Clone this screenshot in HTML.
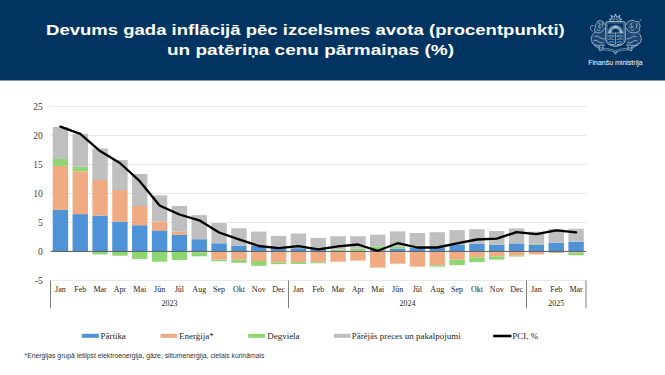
<!DOCTYPE html>
<html><head><meta charset="utf-8"><style>
html,body{margin:0;padding:0;width:665px;height:375px;overflow:hidden;background:#fff}
#hdr{position:absolute;left:0;top:0;width:665px;height:81px}
.t{position:absolute;color:#fff;font-family:"Liberation Sans",sans-serif;font-weight:bold;font-size:15.5px;white-space:nowrap;transform-origin:0 0}
#fm{position:absolute;left:588.2px;top:58.8px;color:#fff;font-family:"Liberation Sans",sans-serif;font-size:7px;white-space:nowrap}
svg{position:absolute;left:0;top:0}
.ax{font-family:"Liberation Serif",serif;font-size:9.5px;fill:#404040}
.mx{font-family:"Liberation Serif",serif;font-size:8px;fill:#1e1e1e}
.lg{font-family:"Liberation Serif",serif;font-size:8.95px;fill:#262626}
.fn{font-family:"Liberation Sans",sans-serif;font-size:6.8px;fill:#333}
</style></head><body>
<svg id="hdr" width="665" height="81"><rect x="0" y="0" width="665" height="80.5" fill="#023462"/></svg>
<div class="t" id="t1" style="left:46px;top:21px;transform:scaleX(1.195)">Devums gada inflācijā pēc izcelsmes avota (procentpunkti)</div>
<div class="t" id="t2" style="left:167px;top:41px;transform:scaleX(1.225)">un patēriņa cenu pārmaiņas (%)</div>
<div id="fm">Finanšu ministrija</div>
<svg width="665" height="375" viewBox="0 0 665 375">
<g><path d="M611.54,21.00 L609.22,19.15 L612.30,18.88 L610.97,15.34 L614.28,17.58 L615.50,14.00 L616.72,17.58 L620.03,15.34 L618.70,18.88 L621.78,19.15 L619.46,21.00" stroke="#d3dce8" stroke-width="0.8" fill="none" stroke-linejoin="miter"/><path d="M612.9,21.2 A2.6,2.2 0 0 1 618.1,21.2" stroke="#d3dce8" stroke-width="0.6" fill="none"/><path d="M607.6,21.6 L623.4,21.6 Q625.2,21.6 625.2,23.4 L625.2,39.8 Q625.2,45 615.5,46.4 Q605.8,45 605.8,39.8 L605.8,23.4 Q605.8,21.6 607.6,21.6 Z" stroke="#d3dce8" stroke-width="0.85" fill="none"/><path d="M607.2,23 L623.8,23 L623.8,39.5 Q623.8,44 615.5,45.1 Q607.2,44 607.2,39.5 Z" stroke="#d3dce8" stroke-width="0.45" fill="none" opacity="0.75"/><path d="M611.10,32.60L608.10,32.60M611.17,31.84L608.21,31.32M611.37,31.10L608.55,30.07M611.69,30.40L609.09,28.90M612.13,29.77L609.83,27.84M612.67,29.23L610.74,26.93M613.30,28.79L611.80,26.19M614.00,28.47L612.97,25.65M614.74,28.27L614.22,25.31M615.50,28.20L615.50,25.20M616.26,28.27L616.78,25.31M617.00,28.47L618.03,25.65M617.70,28.79L619.20,26.19M618.33,29.23L620.26,26.93M618.87,29.77L621.17,27.84M619.31,30.40L621.91,28.90M619.63,31.10L622.45,30.07M619.83,31.84L622.79,31.32M619.90,32.60L622.90,32.60" stroke="#d3dce8" stroke-width="0.8" fill="none"/><path d="M611.1,32.6 A4.4,4.4 0 0 1 619.9,32.6" stroke="#d3dce8" stroke-width="0.5" fill="none"/><path d="M607.5,33 L623.5,33 M615.5,33 L615.5,45 M608.5,36 Q610,34.2 612,35.5 Q613.5,34.5 614.5,36.2 Q613,37.5 611,37 Q609.5,38 608.5,36 Z M616.5,36.2 Q617.5,34.5 619,35.5 Q621,34.2 622.5,36 Q621.5,38 620,37 Q618,37.5 616.5,36.2 Z M608,39.2 Q611,38.3 614.5,39.8 M616.5,39.8 Q620,38.3 623,39.2 M609,42 Q611.5,41 614.5,42.5 M616.5,42.5 Q619.5,41 622,42 M610,44 L614,44.8 M617,44.8 L621,44" stroke="#d3dce8" stroke-width="0.6" fill="none"/><path d="M604.6,24.6 Q603.8,20.6 600.2,20.4 Q596.4,20.6 596.6,23.8 Q594.2,25 595.4,27.8 Q593.4,29.8 595.2,32 Q597.8,33.6 600.8,32.4 Q603.6,31 604.6,28 M598.4,22.8 Q600.6,23 600.2,25 Q598.4,25.6 598.6,27.4 Q600.8,28.2 601.8,26.6 M596.8,29.6 Q598.6,31 600.4,30 M602.2,22 Q603.4,24 602.4,26.2 M595.2,32 Q591.4,34.4 591.2,38.6 Q591.2,42.6 594.4,44.8 Q597.4,46 601,45.4 L605,45 M594.6,36.4 Q597.6,35.4 599.8,37.4 Q601.6,39.4 604.6,38.8 M593.8,40.6 Q596.6,39.6 598.6,41.8 Q600.4,43.6 603.6,42.6 M599,45.4 L599.2,50.6 L601.8,50.6 M602.8,45.2 L603,50.2 M592.6,31.6 Q589.6,29.6 590.6,26.6 Q591.8,24.6 593.6,26" stroke="#d3dce8" stroke-width="0.62" fill="none"/><path d="M604.6,24.6 Q603.8,20.6 600.2,20.4 Q596.4,20.6 596.6,23.8 Q594.2,25 595.4,27.8 Q593.4,29.8 595.2,32 Q591.4,34.4 591.2,38.6 Q591.2,42.6 594.4,44.8 Q597.4,46 601,45.4 L605,45 Z" fill="#d3dce8" fill-opacity="0.13"/><path d="M626.4,24.6 Q627.2,20.6 630.8,20.4 Q634,19.6 635.6,21.8 Q638.6,20.6 639,23.6 Q641.2,25.6 639.6,28 Q640.8,31 637.6,32.2 Q634.4,33.6 630.2,32.4 Q627.4,31 626.4,28 M632.6,22.8 Q630.4,23 630.8,25 Q632.6,25.6 632.4,27.4 Q630.2,28.2 629.2,26.6 M634.2,29.6 Q632.4,31 630.6,30 M636.6,23.4 Q637.6,26 636.2,28.4 M637.6,32.2 Q641.2,34.4 641.4,38.6 Q641.4,42.6 638.2,44.8 Q635.2,46 631.6,45.4 L626,45 M636.4,36.4 Q633.4,35.4 631.2,37.4 Q629.4,39.4 626.4,38.8 M637.2,40.6 Q634.4,39.6 632.4,41.8 Q630.6,43.6 627.4,42.6 M632,45.4 L631.8,50.6 L629.2,50.6 M628.2,45.2 L628,50.2 M638.8,21.8 L641.6,19.6" stroke="#d3dce8" stroke-width="0.62" fill="none"/><path d="M626.4,24.6 Q627.2,20.6 630.8,20.4 Q634,19.6 635.6,21.8 Q638.6,20.6 639,23.6 Q641.2,25.6 639.6,28 Q640.8,31 637.6,32.2 Q641.2,34.4 641.4,38.6 Q641.4,42.6 638.2,44.8 Q635.2,46 631.6,45.4 L626,45 Z" fill="#d3dce8" fill-opacity="0.13"/><path d="M591.8,42.2 Q595,47.6 604,48.2 Q611,48.6 615.5,50.8 Q620,48.6 627,48.2 Q636,47.6 639.2,42.2 M594,45.2 Q599.5,50.2 607.5,50.3 Q612.5,50.6 615.5,52.6 Q618.5,50.6 623.5,50.3 Q631.5,50.2 637,45.2" stroke="#d3dce8" stroke-width="0.55" fill="none" opacity="0.85"/><path d="M613.6,51 Q615.5,55.5 617.4,51 M614.4,53.8 L616.6,53.8" stroke="#d3dce8" stroke-width="0.6" fill="none"/></g>
<line x1="50.5" x2="586.0" y1="106.40" y2="106.40" stroke="#e6e6e6" stroke-width="1"/>
<line x1="50.5" x2="586.0" y1="135.40" y2="135.40" stroke="#e6e6e6" stroke-width="1"/>
<line x1="50.5" x2="586.0" y1="164.40" y2="164.40" stroke="#e6e6e6" stroke-width="1"/>
<line x1="50.5" x2="586.0" y1="193.40" y2="193.40" stroke="#e6e6e6" stroke-width="1"/>
<line x1="50.5" x2="586.0" y1="222.40" y2="222.40" stroke="#e6e6e6" stroke-width="1"/>
<line x1="50.5" x2="586.0" y1="280.40" y2="280.40" stroke="#e6e6e6" stroke-width="1"/>
<text x="42.8" y="110.30" text-anchor="end" class="ax">25</text>
<text x="42.8" y="139.30" text-anchor="end" class="ax">20</text>
<text x="42.8" y="168.30" text-anchor="end" class="ax">15</text>
<text x="42.8" y="197.30" text-anchor="end" class="ax">10</text>
<text x="42.8" y="226.30" text-anchor="end" class="ax">5</text>
<text x="42.8" y="255.30" text-anchor="end" class="ax">0</text>
<text x="42.8" y="284.30" text-anchor="end" class="ax">-5</text>
<rect x="52.72" y="209.90" width="15.4" height="41.50" fill="#4e93d8"/>
<rect x="52.72" y="165.90" width="15.4" height="44.00" fill="#f1ab83"/>
<rect x="52.72" y="159.00" width="15.4" height="6.90" fill="#8dd672"/>
<rect x="52.72" y="127.00" width="15.4" height="32.00" fill="#bfbfbf"/>
<rect x="72.55" y="214.10" width="15.4" height="37.30" fill="#4e93d8"/>
<rect x="72.55" y="171.30" width="15.4" height="42.80" fill="#f1ab83"/>
<rect x="72.55" y="166.70" width="15.4" height="4.60" fill="#8dd672"/>
<rect x="72.55" y="133.90" width="15.4" height="32.80" fill="#bfbfbf"/>
<rect x="92.38" y="215.70" width="15.4" height="35.70" fill="#4e93d8"/>
<rect x="92.38" y="180.00" width="15.4" height="35.70" fill="#f1ab83"/>
<rect x="92.38" y="148.50" width="15.4" height="31.50" fill="#bfbfbf"/>
<rect x="92.38" y="251.40" width="15.4" height="3.00" fill="#8dd672"/>
<rect x="112.22" y="221.60" width="15.4" height="29.80" fill="#4e93d8"/>
<rect x="112.22" y="190.00" width="15.4" height="31.60" fill="#f1ab83"/>
<rect x="112.22" y="160.10" width="15.4" height="29.90" fill="#bfbfbf"/>
<rect x="112.22" y="251.40" width="15.4" height="4.30" fill="#8dd672"/>
<rect x="132.05" y="225.20" width="15.4" height="26.20" fill="#4e93d8"/>
<rect x="132.05" y="206.00" width="15.4" height="19.20" fill="#f1ab83"/>
<rect x="132.05" y="174.00" width="15.4" height="32.00" fill="#bfbfbf"/>
<rect x="132.05" y="251.40" width="15.4" height="7.50" fill="#8dd672"/>
<rect x="151.88" y="230.40" width="15.4" height="21.00" fill="#4e93d8"/>
<rect x="151.88" y="221.50" width="15.4" height="8.90" fill="#f1ab83"/>
<rect x="151.88" y="195.40" width="15.4" height="26.10" fill="#bfbfbf"/>
<rect x="151.88" y="251.40" width="15.4" height="10.30" fill="#8dd672"/>
<rect x="171.72" y="234.90" width="15.4" height="16.50" fill="#4e93d8"/>
<rect x="171.72" y="231.70" width="15.4" height="3.20" fill="#f1ab83"/>
<rect x="171.72" y="206.00" width="15.4" height="25.70" fill="#bfbfbf"/>
<rect x="171.72" y="251.40" width="15.4" height="8.50" fill="#8dd672"/>
<rect x="191.55" y="239.20" width="15.4" height="12.20" fill="#4e93d8"/>
<rect x="191.55" y="215.20" width="15.4" height="24.00" fill="#bfbfbf"/>
<rect x="191.55" y="251.40" width="15.4" height="0.80" fill="#f1ab83"/>
<rect x="191.55" y="252.20" width="15.4" height="4.10" fill="#8dd672"/>
<rect x="211.38" y="243.30" width="15.4" height="8.10" fill="#4e93d8"/>
<rect x="211.38" y="223.00" width="15.4" height="20.30" fill="#bfbfbf"/>
<rect x="211.38" y="251.40" width="15.4" height="8.30" fill="#f1ab83"/>
<rect x="211.38" y="259.70" width="15.4" height="1.50" fill="#8dd672"/>
<rect x="231.22" y="245.50" width="15.4" height="5.90" fill="#4e93d8"/>
<rect x="231.22" y="228.30" width="15.4" height="17.20" fill="#bfbfbf"/>
<rect x="231.22" y="251.40" width="15.4" height="8.30" fill="#f1ab83"/>
<rect x="231.22" y="259.70" width="15.4" height="3.10" fill="#8dd672"/>
<rect x="251.05" y="245.90" width="15.4" height="5.50" fill="#4e93d8"/>
<rect x="251.05" y="231.60" width="15.4" height="14.30" fill="#bfbfbf"/>
<rect x="251.05" y="251.40" width="15.4" height="9.60" fill="#f1ab83"/>
<rect x="251.05" y="261.00" width="15.4" height="4.80" fill="#8dd672"/>
<rect x="270.88" y="248.10" width="15.4" height="3.30" fill="#4e93d8"/>
<rect x="270.88" y="235.90" width="15.4" height="12.20" fill="#bfbfbf"/>
<rect x="270.88" y="251.40" width="15.4" height="11.00" fill="#f1ab83"/>
<rect x="270.88" y="262.40" width="15.4" height="1.70" fill="#8dd672"/>
<rect x="290.72" y="248.20" width="15.4" height="3.20" fill="#4e93d8"/>
<rect x="290.72" y="233.50" width="15.4" height="14.70" fill="#bfbfbf"/>
<rect x="290.72" y="251.40" width="15.4" height="10.70" fill="#f1ab83"/>
<rect x="290.72" y="262.10" width="15.4" height="1.90" fill="#8dd672"/>
<rect x="310.55" y="248.90" width="15.4" height="2.50" fill="#4e93d8"/>
<rect x="310.55" y="237.90" width="15.4" height="11.00" fill="#bfbfbf"/>
<rect x="310.55" y="251.40" width="15.4" height="10.80" fill="#f1ab83"/>
<rect x="310.55" y="262.20" width="15.4" height="1.10" fill="#8dd672"/>
<rect x="330.38" y="250.80" width="15.4" height="0.60" fill="#4e93d8"/>
<rect x="330.38" y="249.50" width="15.4" height="1.30" fill="#8dd672"/>
<rect x="330.38" y="236.20" width="15.4" height="13.30" fill="#bfbfbf"/>
<rect x="330.38" y="251.40" width="15.4" height="10.30" fill="#f1ab83"/>
<rect x="350.22" y="250.80" width="15.4" height="0.60" fill="#4e93d8"/>
<rect x="350.22" y="248.40" width="15.4" height="2.40" fill="#8dd672"/>
<rect x="350.22" y="236.20" width="15.4" height="12.20" fill="#bfbfbf"/>
<rect x="350.22" y="251.40" width="15.4" height="9.20" fill="#f1ab83"/>
<rect x="370.05" y="250.20" width="15.4" height="1.20" fill="#4e93d8"/>
<rect x="370.05" y="246.30" width="15.4" height="3.90" fill="#8dd672"/>
<rect x="370.05" y="234.70" width="15.4" height="11.60" fill="#bfbfbf"/>
<rect x="370.05" y="251.40" width="15.4" height="16.20" fill="#f1ab83"/>
<rect x="389.88" y="248.60" width="15.4" height="2.80" fill="#4e93d8"/>
<rect x="389.88" y="246.40" width="15.4" height="2.20" fill="#8dd672"/>
<rect x="389.88" y="231.40" width="15.4" height="15.00" fill="#bfbfbf"/>
<rect x="389.88" y="251.40" width="15.4" height="12.30" fill="#f1ab83"/>
<rect x="409.72" y="247.50" width="15.4" height="3.90" fill="#4e93d8"/>
<rect x="409.72" y="245.70" width="15.4" height="1.80" fill="#8dd672"/>
<rect x="409.72" y="233.00" width="15.4" height="12.70" fill="#bfbfbf"/>
<rect x="409.72" y="251.40" width="15.4" height="15.30" fill="#f1ab83"/>
<rect x="429.55" y="247.20" width="15.4" height="4.20" fill="#4e93d8"/>
<rect x="429.55" y="232.20" width="15.4" height="15.00" fill="#bfbfbf"/>
<rect x="429.55" y="251.40" width="15.4" height="13.90" fill="#f1ab83"/>
<rect x="429.55" y="265.30" width="15.4" height="1.40" fill="#8dd672"/>
<rect x="449.38" y="245.00" width="15.4" height="6.40" fill="#4e93d8"/>
<rect x="449.38" y="230.10" width="15.4" height="14.90" fill="#bfbfbf"/>
<rect x="449.38" y="251.40" width="15.4" height="8.30" fill="#f1ab83"/>
<rect x="449.38" y="259.70" width="15.4" height="5.40" fill="#8dd672"/>
<rect x="469.22" y="243.50" width="15.4" height="7.90" fill="#4e93d8"/>
<rect x="469.22" y="229.20" width="15.4" height="14.30" fill="#bfbfbf"/>
<rect x="469.22" y="251.40" width="15.4" height="6.00" fill="#f1ab83"/>
<rect x="469.22" y="257.40" width="15.4" height="4.70" fill="#8dd672"/>
<rect x="489.05" y="244.90" width="15.4" height="6.50" fill="#4e93d8"/>
<rect x="489.05" y="231.00" width="15.4" height="13.90" fill="#bfbfbf"/>
<rect x="489.05" y="251.40" width="15.4" height="5.00" fill="#f1ab83"/>
<rect x="489.05" y="256.40" width="15.4" height="3.20" fill="#8dd672"/>
<rect x="508.88" y="243.40" width="15.4" height="8.00" fill="#4e93d8"/>
<rect x="508.88" y="228.40" width="15.4" height="15.00" fill="#bfbfbf"/>
<rect x="508.88" y="251.40" width="15.4" height="4.10" fill="#f1ab83"/>
<rect x="508.88" y="255.50" width="15.4" height="1.00" fill="#8dd672"/>
<rect x="528.72" y="244.70" width="15.4" height="6.70" fill="#4e93d8"/>
<rect x="528.72" y="243.90" width="15.4" height="0.80" fill="#8dd672"/>
<rect x="528.72" y="231.70" width="15.4" height="12.20" fill="#bfbfbf"/>
<rect x="528.72" y="251.40" width="15.4" height="3.00" fill="#f1ab83"/>
<rect x="548.55" y="242.70" width="15.4" height="8.70" fill="#4e93d8"/>
<rect x="548.55" y="229.00" width="15.4" height="13.70" fill="#bfbfbf"/>
<rect x="548.55" y="251.40" width="15.4" height="1.60" fill="#f1ab83"/>
<rect x="568.38" y="241.70" width="15.4" height="9.70" fill="#4e93d8"/>
<rect x="568.38" y="228.70" width="15.4" height="13.00" fill="#bfbfbf"/>
<rect x="568.38" y="251.40" width="15.4" height="1.20" fill="#f1ab83"/>
<rect x="568.38" y="252.60" width="15.4" height="2.70" fill="#8dd672"/>
<line x1="50.5" x2="586.0" y1="251.4" y2="251.4" stroke="#595959" stroke-width="1"/>
<polyline points="60.42,126.7 80.25,133.9 100.08,151.1 119.92,163 139.75,181.2 159.58,205.5 179.42,214.5 199.25,220.3 219.08,232.5 238.92,239.3 258.75,246 278.58,248.1 298.42,246.1 318.25,249.3 338.08,246.3 357.92,244.5 377.75,250.8 397.58,243.2 417.42,247.5 437.25,247.5 457.08,243.3 476.92,239.5 496.75,238.6 516.58,232.2 536.42,234.1 556.25,230.3 576.08,232.3" fill="none" stroke="#000" stroke-width="2.3" stroke-linejoin="round" stroke-linecap="round"/>
<line x1="50.50" x2="50.50" y1="280.5" y2="308.3" stroke="#7f7f7f" stroke-width="1"/>
<line x1="288.50" x2="288.50" y1="280.5" y2="308.3" stroke="#7f7f7f" stroke-width="1"/>
<line x1="526.50" x2="526.50" y1="280.5" y2="308.3" stroke="#7f7f7f" stroke-width="1"/>
<line x1="586.00" x2="586.00" y1="280.5" y2="308.3" stroke="#7f7f7f" stroke-width="1"/>
<text x="60.42" y="292.3" text-anchor="middle" class="mx">Jan</text>
<text x="80.25" y="292.3" text-anchor="middle" class="mx">Feb</text>
<text x="100.08" y="292.3" text-anchor="middle" class="mx">Mar</text>
<text x="119.92" y="292.3" text-anchor="middle" class="mx">Apr</text>
<text x="139.75" y="292.3" text-anchor="middle" class="mx">Mai</text>
<text x="159.58" y="292.3" text-anchor="middle" class="mx">Jūn</text>
<text x="179.42" y="292.3" text-anchor="middle" class="mx">Jūl</text>
<text x="199.25" y="292.3" text-anchor="middle" class="mx">Aug</text>
<text x="219.08" y="292.3" text-anchor="middle" class="mx">Sep</text>
<text x="238.92" y="292.3" text-anchor="middle" class="mx">Okt</text>
<text x="258.75" y="292.3" text-anchor="middle" class="mx">Nov</text>
<text x="278.58" y="292.3" text-anchor="middle" class="mx">Dec</text>
<text x="298.42" y="292.3" text-anchor="middle" class="mx">Jan</text>
<text x="318.25" y="292.3" text-anchor="middle" class="mx">Feb</text>
<text x="338.08" y="292.3" text-anchor="middle" class="mx">Mar</text>
<text x="357.92" y="292.3" text-anchor="middle" class="mx">Apr</text>
<text x="377.75" y="292.3" text-anchor="middle" class="mx">Mai</text>
<text x="397.58" y="292.3" text-anchor="middle" class="mx">Jūn</text>
<text x="417.42" y="292.3" text-anchor="middle" class="mx">Jūl</text>
<text x="437.25" y="292.3" text-anchor="middle" class="mx">Aug</text>
<text x="457.08" y="292.3" text-anchor="middle" class="mx">Sep</text>
<text x="476.92" y="292.3" text-anchor="middle" class="mx">Okt</text>
<text x="496.75" y="292.3" text-anchor="middle" class="mx">Nov</text>
<text x="516.58" y="292.3" text-anchor="middle" class="mx">Dec</text>
<text x="536.42" y="292.3" text-anchor="middle" class="mx">Jan</text>
<text x="556.25" y="292.3" text-anchor="middle" class="mx">Feb</text>
<text x="576.08" y="292.3" text-anchor="middle" class="mx">Mar</text>
<text x="169.50" y="306.2" text-anchor="middle" class="mx">2023</text>
<text x="407.50" y="306.2" text-anchor="middle" class="mx">2024</text>
<text x="556.25" y="306.2" text-anchor="middle" class="mx">2025</text>
<rect x="82" y="333.8" width="16.8" height="4" fill="#4e93d8"/>
<text x="100.5" y="338.7" class="lg">Pārtika</text>
<rect x="160.4" y="333.8" width="16.8" height="4" fill="#f1ab83"/>
<text x="179" y="338.7" class="lg">Enerģija*</text>
<rect x="248.2" y="333.8" width="16.8" height="4" fill="#8dd672"/>
<text x="267.3" y="338.7" class="lg">Degviela</text>
<rect x="333.8" y="333.8" width="16.8" height="4" fill="#bfbfbf"/>
<text x="351.7" y="338.7" class="lg">Pārējās preces un pakalpojumi</text>
<line x1="493.2" x2="511.5" y1="336" y2="336" stroke="#000" stroke-width="2.6"/>
<text x="512.3" y="338.7" class="lg">PCI, %</text>
<text x="24.5" y="357.8" class="fn">*Enerģijas grupā ietilpst elektroenerģija, gāze, siltumenerģija, cietais kurināmais</text>
</svg>
</body></html>
